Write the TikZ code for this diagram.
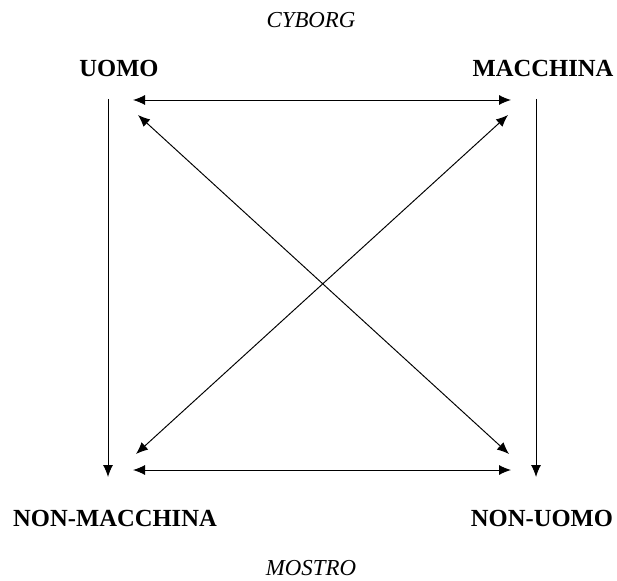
\documentclass[tikz,border=0pt]{standalone}
\usepackage{fontspec}
\setmainfont{Liberation Serif}
\usepackage{tikz}
\usetikzlibrary{arrows.meta}

\begin{document}
\begin{tikzpicture}[x=0.02cm, y=-0.02cm, >={Latex[length=2.4mm, width=2mm]},
	etichetta/.style={font=\fontsize{14}{16}\selectfont\bfseries},
	polo/.style={font=\fontsize{13}{15}\selectfont\itshape},
	freccia/.style={line width=0.55pt, <->}]
			\useasboundingbox (0,0) rectangle (617,580);

			% Le etichette dei quattro vertici
			\node[etichetta] (uomo) at (119, 68) {UOMO};
			\node[etichetta] (macchina) at (543, 68) {MACCHINA};
			\node[etichetta] (nonmacchina) at (115, 518) {NON-MACCHINA};
			\node[etichetta] (nonuomo) at (542, 518) {NON-UOMO};

			% Le sintesi sopra e sotto
			\node[polo] (cyborg) at (311, 20) {CYBORG};
			\node[polo] (mostro) at (311, 568) {MOSTRO};

			% Gli estremi delle frecce
			\coordinate (a1) at (133, 100);    % alto sinistra
			\coordinate (a2) at (511, 100);    % alto destra
			\coordinate (b1) at (133, 470);    % basso sinistra
			\coordinate (b2) at (511, 470);    % basso destra
			\coordinate (d1) at (138, 115);    % diagonale alto sinistra
			\coordinate (d2) at (509, 454);    % diagonale basso destra
			\coordinate (d3) at (508, 115);    % diagonale alto destra
			\coordinate (d4) at (136, 454);    % diagonale basso sinistra
			\coordinate (s1) at (108, 99);     % verticale sinistra
			\coordinate (s2) at (108, 477);
			\coordinate (r1) at (536, 99);     % verticale destra
			\coordinate (r2) at (536, 477);

			% Disegnare le frecce
			\draw[freccia] (a1) -- (a2);
			\draw[freccia] (b1) -- (b2);
			\draw[freccia] (d1) -- (d2);
			\draw[freccia] (d3) -- (d4);
			\draw[line width=0.55pt, ->] (s1) -- (s2);
			\draw[line width=0.55pt, ->] (r1) -- (r2);

		\end{tikzpicture}
\end{document}
